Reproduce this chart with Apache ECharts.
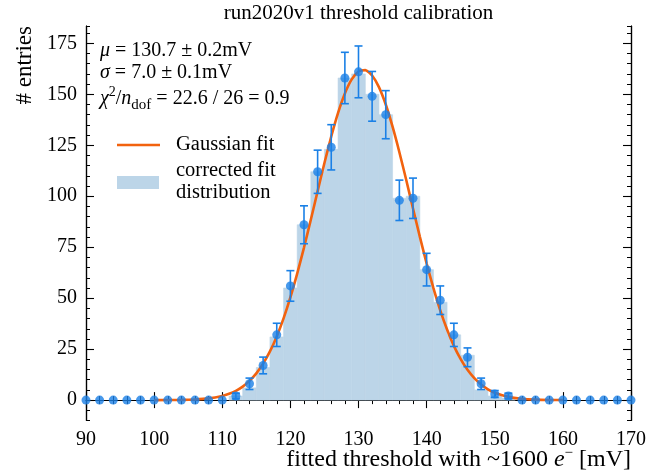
<!DOCTYPE html>
<html>
<head>
<meta charset="utf-8">
<script src="https://cdn.jsdelivr.net/npm/echarts@6/dist/echarts.min.js"></script>
<style>html,body{margin:0;padding:0;background:#fff;}#c{width:657px;height:474px;}</style>
</head>
<body>
<div id="c"></div>
<script>
// ---- data ----
const binCenters = [90,92,94,96,98,100,102,104,106,108,110,112,114,116,118,120,122,124,126,128,130,132,134,136,138,140,142,144,146,148,150,152,154,156,158,160,162,164,166,168,170];
const entries    = [0,0,0,0,0,0,0,0,0,0,0,2,8,17,32,56,86,112,124,158,161,149,140,98,99,64,49,32,21,8,3,2,0,0,0,0,0,0,0,0,0];
const errors     = [0,0,0,0,0,0,0,0,0,0,0,1.4,2.8,4.1,5.7,7.5,9.3,10.6,11.1,12.6,12.7,12.2,11.8,9.9,9.9,8.0,7.0,5.7,4.6,2.8,1.7,1.4,0,0,0,0,0,0,0,0,0];
const corrected  = [0,0,0,0,0,0,0,0,0,0,0,2,6,16,31,55,86,112,123,158,160,150,140,99,100,64,48,32,22,5,2,1,0,0,0,0,0,0,0,0,0];
const fitX = [100,104,106,108,110,111,112,113,114,115,116,117,118,119,120,121,122,123,124,125,126,127,128,129,130,131,132,133,134,135,136,137,138,139,140,141,142,143,144,145,146,147,148,149,150,152,154,156,158,160];
const fitY = [0.01,0.11,0.32,0.84,2.05,3.09,4.57,6.63,9.41,13.1,17.87,23.87,31.24,40.08,50.37,62.03,74.83,88.47,102.5,116.3,129.3,140.9,150.4,157.3,161.2,161.85,159.2,153.5,145.0,134.1,121.6,108.1,94.0,80.2,67.0,54.9,44.0,34.6,26.6,20.1,14.87,10.77,7.64,5.31,3.62,1.58,0.64,0.24,0.08,0.03];
const xTicks = [90,100,110,120,130,140,150,160,170];
const yTicks = [0,25,50,75,100,125,150,175];

const FONT = '"Liberation Serif", "DejaVu Serif", serif';
const BLUE = '#1a80e6';
const ORANGE = '#f2620f';
const BAR = '#bcd5e8';

const pts = binCenters.map((x, i) => [x, entries[i]]);
const errData = [];
binCenters.forEach((x, i) => { if (errors[i] > 0) errData.push([x, entries[i] - errors[i], entries[i] + errors[i]]); });
const barData = binCenters.map((x, i) => [x, corrected[i]]);
const fitData = fitX.map((x, i) => [x, fitY[i]]);

const chart = echarts.init(document.getElementById('c'), null, {renderer: 'canvas'});

const axLine = {show: true, lineStyle: {color: '#000', width: 1.2}};
function xAx(pos, labels) {
  return {
    type: 'value', position: pos, min: 90, max: 170, interval: 10,
    axisLine: axLine,
    axisTick: {show: true, inside: true, length: 8, lineStyle: {color: '#000', width: 1.1}},
    minorTick: {show: true, splitNumber: 5, length: 4, lineStyle: {color: '#000', width: 1}},
    axisLabel: {show: labels, fontSize: 20, color: '#000', fontFamily: FONT, margin: 9},
    splitLine: {show: false}, minorSplitLine: {show: false}
  };
}
function yMinor(pos, labels) {
  return {
    type: 'value', position: pos, min: -10, max: 183.5, interval: 5,
    axisLine: axLine,
    axisTick: {show: true, inside: true, length: 4, lineStyle: {color: '#000', width: 1}},
    axisLabel: {show: labels, fontSize: 20, color: '#000', fontFamily: FONT, margin: 9,
      formatter: v => (yTicks.indexOf(v) >= 0 ? String(v) : '')},
    splitLine: {show: false}
  };
}
function yMajor(pos) {
  return {
    type: 'value', position: pos, min: -10, max: 183.5,
    axisLine: axLine,
    axisTick: {show: true, inside: true, length: 8, customValues: yTicks, lineStyle: {color: '#000', width: 1.1}},
    axisLabel: {show: false, customValues: yTicks},
    splitLine: {show: false}
  };
}

const option = {
  animation: false,
  backgroundColor: '#fff',
  grid: {left: 86, right: 26, top: 26, bottom: 53.5, containLabel: false},
  xAxis: [xAx('bottom', true), xAx('top', false)],
  yAxis: [yMinor('left', true), yMajor('left'), yMinor('right', false), yMajor('right')],
  series: [
    {
      type: 'custom', name: 'corrected fit distribution', z: 1,
      data: barData, encode: {x: 0, y: 1},
      renderItem: function (params, api) {
        const x = api.value(0), v = api.value(1);
        if (!(v > 0)) return null;
        const p1 = api.coord([x - 1, v]);
        const p2 = api.coord([x + 1, 0]);
        return {type: 'rect', shape: {x: p1[0], y: p1[1], width: p2[0] - p1[0], height: p2[1] - p1[1]},
          style: {fill: BAR, stroke: BAR, lineWidth: 0.6}};
      }
    },
    {
      type: 'line', name: 'Gaussian fit', z: 3, data: fitData, showSymbol: false, smooth: 0.2,
      lineStyle: {color: ORANGE, width: 2.6}
    },
    {
      type: 'custom', name: 'err', z: 4, data: errData, encode: {x: 0, y: [1, 2]},
      renderItem: function (params, api) {
        const x = api.value(0);
        const lo = api.coord([x, api.value(1)]);
        const hi = api.coord([x, api.value(2)]);
        const st = {stroke: BLUE, lineWidth: 1.6};
        return {type: 'group', children: [
          {type: 'line', shape: {x1: lo[0], y1: lo[1], x2: hi[0], y2: hi[1]}, style: st},
          {type: 'line', shape: {x1: lo[0] - 4, y1: lo[1], x2: lo[0] + 4, y2: lo[1]}, style: st},
          {type: 'line', shape: {x1: hi[0] - 4, y1: hi[1], x2: hi[0] + 4, y2: hi[1]}, style: st}
        ]};
      }
    },
    {
      type: 'scatter', name: 'data', z: 5, data: pts, symbolSize: 9,
      itemStyle: {color: BLUE}
    }
  ],
  graphic: [
    {type: 'text', x: 358.5, y: 13, z: 10,
      style: {text: 'run2020v1 threshold calibration', font: '21px ' + FONT, fill: '#000', align: 'center', verticalAlign: 'middle'}},
    {type: 'text', x: 631, y: 460, z: 10,
      style: {text: 'fitted threshold with ~1600 {it|e}{sup|−} [mV]', font: '24px ' + FONT, fill: '#000', align: 'right', verticalAlign: 'middle',
        rich: {it: {fontStyle: 'italic', fontSize: 24, fontFamily: FONT, lineHeight: 28, verticalAlign: 'middle'},
               sup: {fontSize: 15, fontFamily: FONT, lineHeight: 28, verticalAlign: 'top'}}}},
    {type: 'text', x: 25, y: 26, rotation: Math.PI / 2, z: 10,
      style: {text: '# entries', font: '23px ' + FONT, fill: '#000', align: 'right', verticalAlign: 'middle'}},
    {type: 'text', x: 100, y: 51, z: 10,
      style: {text: '{it|μ} = 130.7 ± 0.2mV', font: '20px ' + FONT, fill: '#000', align: 'left', verticalAlign: 'middle',
        rich: {it: {fontStyle: 'italic', fontSize: 20, fontFamily: FONT}}}},
    {type: 'text', x: 100, y: 73, z: 10,
      style: {text: '{it|σ} = 7.0 ± 0.1mV', font: '20px ' + FONT, fill: '#000', align: 'left', verticalAlign: 'middle',
        rich: {it: {fontStyle: 'italic', fontSize: 20, fontFamily: FONT}}}},
    {type: 'text', x: 100, y: 99, z: 10,
      style: {text: '{it|χ}{sup|2}/{it|n}{sub|dof} = 22.6 / 26 = 0.9', font: '20px ' + FONT, fill: '#000', align: 'left', verticalAlign: 'middle',
        rich: {it: {fontStyle: 'italic', fontSize: 20, fontFamily: FONT, lineHeight: 28, verticalAlign: 'middle'},
               sup: {fontSize: 14, fontFamily: FONT, lineHeight: 28, verticalAlign: 'top'},
               sub: {fontSize: 15, fontFamily: FONT, lineHeight: 28, verticalAlign: 'bottom'}}}},
    {type: 'line', z: 10, shape: {x1: 117, y1: 145, x2: 160, y2: 145}, style: {stroke: ORANGE, lineWidth: 2.6}},
    {type: 'text', x: 176, y: 145, z: 10,
      style: {text: 'Gaussian fit', font: '20.5px ' + FONT, fill: '#000', align: 'left', verticalAlign: 'middle'}},
    {type: 'rect', z: 10, shape: {x: 117, y: 176, width: 42, height: 13}, style: {fill: BAR}},
    {type: 'text', x: 176, y: 171, z: 10,
      style: {text: 'corrected fit', font: '20.5px ' + FONT, fill: '#000', align: 'left', verticalAlign: 'middle'}},
    {type: 'text', x: 176, y: 193, z: 10,
      style: {text: 'distribution', font: '20.5px ' + FONT, fill: '#000', align: 'left', verticalAlign: 'middle'}}
  ]
};
chart.setOption(option);
</script>
</body>
</html>
